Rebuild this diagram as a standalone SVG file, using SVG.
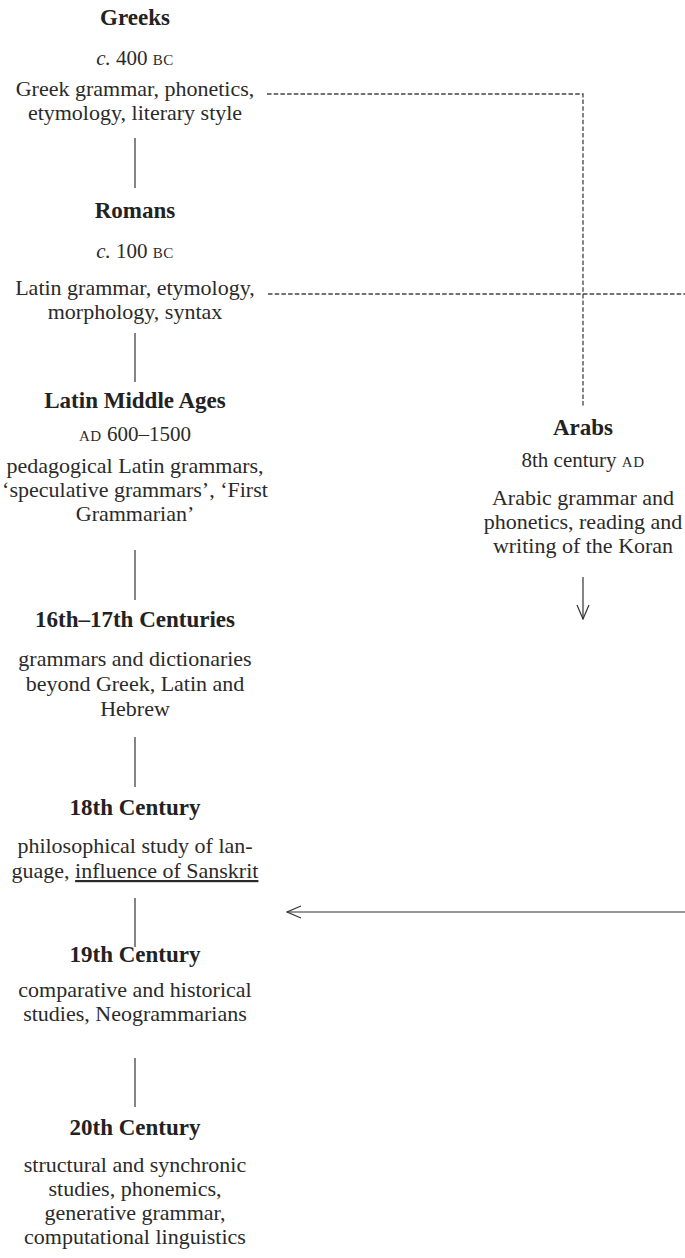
<svg xmlns="http://www.w3.org/2000/svg" width="685" height="1258" viewBox="0 0 685 1258">
<style>
text { font-family: "Liberation Serif", "Times New Roman", serif; fill: #2a2a2a; text-anchor: middle; }
.t { font-weight: bold; font-size: 23px; fill: #222; }
.d { font-size: 21px; }
.sc { font-size: 15px; letter-spacing: 0.5px; }
.b { font-size: 22px; }
.solid { stroke: #333; stroke-width: 1.2; fill: none; }
.dash { stroke: #444; stroke-width: 1.3; fill: none; stroke-dasharray: 4.5 2.2; }
.arr { stroke: #333; stroke-width: 1.2; fill: none; }
</style>
<defs>
<marker id="ah" viewBox="0 0 16 14" refX="15" refY="7" markerWidth="16" markerHeight="14" markerUnits="userSpaceOnUse" orient="auto">
<path d="M1,1 L15,7 L1,13" fill="none" stroke="#333" stroke-width="1.2"/>
</marker>
</defs>

<g id="greeks">
<text class="t" x="135" y="25">Greeks</text>
<text class="d" x="135" y="65"><tspan font-style="italic">c.</tspan> 400 <tspan class="sc">BC</tspan></text>
<text class="b" x="135" y="96">Greek grammar, phonetics,</text>
<text class="b" x="135" y="120">etymology, literary style</text>
</g>

<g id="romans">
<text class="t" x="135" y="218">Romans</text>
<text class="d" x="135" y="258"><tspan font-style="italic">c.</tspan> 100 <tspan class="sc">BC</tspan></text>
<text class="b" x="135" y="295">Latin grammar, etymology,</text>
<text class="b" x="135" y="319">morphology, syntax</text>
</g>

<g id="latin-middle-ages">
<text class="t" x="135" y="408">Latin Middle Ages</text>
<text class="d" x="135" y="441"><tspan class="sc">AD</tspan> 600–1500</text>
<text class="b" x="135" y="473">pedagogical Latin grammars,</text>
<text class="b" x="135" y="497">‘speculative grammars’, ‘First</text>
<text class="b" x="135" y="521">Grammarian’</text>
</g>

<g id="c16-17">
<text class="t" x="135" y="627">16th–17th Centuries</text>
<text class="b" x="135" y="666">grammars and dictionaries</text>
<text class="b" x="135" y="691">beyond Greek, Latin and</text>
<text class="b" x="135" y="716">Hebrew</text>
</g>

<g id="c18">
<text class="t" x="135" y="815">18th Century</text>
<text class="b" x="135" y="853">philosophical study of lan-</text>
<text class="b" x="135" y="878">guage, <tspan text-decoration="underline">influence of Sanskrit</tspan></text>
</g>

<g id="c19">
<text class="t" x="135" y="962">19th Century</text>
<text class="b" x="135" y="997">comparative and historical</text>
<text class="b" x="135" y="1021">studies, Neogrammarians</text>
</g>

<g id="c20">
<text class="t" x="135" y="1135">20th Century</text>
<text class="b" x="135" y="1172">structural and synchronic</text>
<text class="b" x="135" y="1196">studies, phonemics,</text>
<text class="b" x="135" y="1220">generative grammar,</text>
<text class="b" x="135" y="1244">computational linguistics</text>
</g>

<g id="arabs">
<text class="t" x="583" y="435">Arabs</text>
<text class="d" x="583" y="467">8th century <tspan class="sc">AD</tspan></text>
<text class="b" x="583" y="505">Arabic grammar and</text>
<text class="b" x="583" y="529">phonetics, reading and</text>
<text class="b" x="583" y="553">writing of the Koran</text>
</g>

<g id="connectors">
<line class="solid" x1="135" y1="138" x2="135" y2="188"/>
<line class="solid" x1="135" y1="333" x2="135" y2="382"/>
<line class="solid" x1="135" y1="550" x2="135" y2="600"/>
<line class="solid" x1="135" y1="737" x2="135" y2="787"/>
<line class="solid" x1="135" y1="898" x2="135" y2="947"/>
<line class="solid" x1="135" y1="1058" x2="135" y2="1107"/>
<path class="dash" d="M267,94 H583 V407"/>
<path class="dash" d="M268,294 H685"/>
<line class="arr" x1="583" y1="577" x2="583" y2="619" marker-end="url(#ah)"/>
<line class="arr" x1="685" y1="912" x2="287" y2="912" marker-end="url(#ah)"/>
</g>
</svg>
